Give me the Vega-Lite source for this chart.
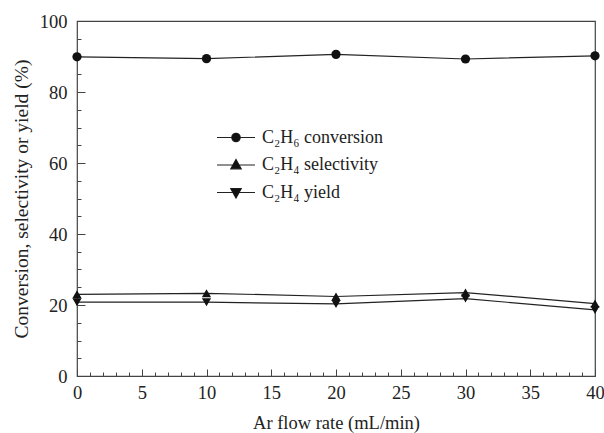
{
  "$schema": "https://vega.github.io/schema/vega-lite/v6.json",
  "width": 518,
  "height": 355,
  "autosize": {"type": "none"},
  "padding": {"left": 77, "top": 21, "right": 9, "bottom": 57},
  "background": "white",
  "config": {
    "view": {"stroke": "#444", "strokeWidth": 1.2},
    "font": "Liberation Serif",
    "axis": {
      "domain": false,
      "grid": false,
      "labelFont": "Liberation Serif",
      "titleFont": "Liberation Serif",
      "labelFontSize": 18.5,
      "titleFontSize": 18.5,
      "labelColor": "#222",
      "titleColor": "#222",
      "titleFontWeight": "normal",
      "tickColor": "#444",
      "tickWidth": 1
    },
    "legend": {
      "title": null,
      "orient": "none",
      "legendX": 148,
      "legendY": 105.5,
      "padding": 0,
      "symbolSize": 400,
      "rowPadding": 7.5,
      "labelOffset": 15,
      "labelFont": "Liberation Serif",
      "labelFontSize": 18,
      "labelColor": "#222",
      "labelLimit": 300
    }
  },
  "data": {
    "values": [
      {"flow": 0, "series": "C₂H₆ conversion", "value": 89.9},
      {"flow": 10, "series": "C₂H₆ conversion", "value": 89.4},
      {"flow": 20, "series": "C₂H₆ conversion", "value": 90.6},
      {"flow": 30, "series": "C₂H₆ conversion", "value": 89.3},
      {"flow": 40, "series": "C₂H₆ conversion", "value": 90.2},
      {"flow": 0, "series": "C₂H₄ selectivity", "value": 23.0},
      {"flow": 10, "series": "C₂H₄ selectivity", "value": 23.3},
      {"flow": 20, "series": "C₂H₄ selectivity", "value": 22.4},
      {"flow": 30, "series": "C₂H₄ selectivity", "value": 23.5},
      {"flow": 40, "series": "C₂H₄ selectivity", "value": 20.4},
      {"flow": 0, "series": "C₂H₄ yield", "value": 20.8},
      {"flow": 10, "series": "C₂H₄ yield", "value": 20.8},
      {"flow": 20, "series": "C₂H₄ yield", "value": 20.3},
      {"flow": 30, "series": "C₂H₄ yield", "value": 21.8},
      {"flow": 40, "series": "C₂H₄ yield", "value": 18.6}
    ]
  },
  "encoding": {
    "x": {
      "field": "flow",
      "type": "quantitative",
      "scale": {"domain": [0, 40], "nice": false, "zero": false},
      "axis": {
        "title": "Ar flow rate (mL/min)",
        "values": [0,1,2,3,4,5,6,7,8,9,10,11,12,13,14,15,16,17,18,19,20,21,22,23,24,25,26,27,28,29,30,31,32,33,34,35,36,37,38,39,40],
        "labelExpr": "datum.value % 5 === 0 ? datum.label : ''",
        "tickSize": {"condition": {"test": "datum.value % 5 === 0", "value": -7}, "value": -4},
        "labelPadding": 14,
        "labelFlush": false,
        "labelOverlap": false,
        "titlePadding": 9
      }
    },
    "y": {
      "field": "value",
      "type": "quantitative",
      "scale": {"domain": [0, 100], "nice": false},
      "axis": {
        "title": "Conversion, selectivity or yield (%)",
        "titleFontSize": 19.5,
        "values": [0,5,10,15,20,25,30,35,40,45,50,55,60,65,70,75,80,85,90,95,100],
        "labelExpr": "datum.value % 20 === 0 ? datum.label : ''",
        "tickSize": {"condition": {"test": "datum.value % 20 === 0", "value": -8}, "value": -4},
        "labelPadding": 18,
        "labelFlush": false,
        "labelOverlap": false,
        "titlePadding": 8
      }
    }
  },
  "layer": [
    {
      "mark": {"type": "line", "color": "#222", "strokeWidth": 1.2},
      "encoding": {"detail": {"field": "series"}}
    },
    {
      "mark": {"type": "point", "filled": true, "color": "#111", "opacity": 1, "size": 85},
      "encoding": {
        "shape": {
          "field": "series",
          "type": "nominal",
          "scale": {
            "domain": ["C₂H₆ conversion", "C₂H₄ selectivity", "C₂H₄ yield"],
            "range": ["circle", "triangle-up", "triangle-down"]
          },
          "legend": null
        }
      }
    },
    {
      "mark": {"type": "point", "filled": false, "color": "#222", "opacity": 0, "strokeWidth": 1.2},
      "encoding": {
        "shape": {
          "field": "series",
          "type": "nominal",
          "scale": {
            "domain": ["C₂H₆ conversion", "C₂H₄ selectivity", "C₂H₄ yield"],
            "range": [
              "M-1.9,0H1.9M0.42,0A0.42,0.42,0,1,1,-0.42,0A0.42,0.42,0,1,1,0.42,0Z",
              "M-1.9,0H1.9M0,-0.55L0.52,0.38L-0.52,0.38Z",
              "M-1.9,0H1.9M0,0.55L0.52,-0.38L-0.52,-0.38Z"
            ]
          },
          "legend": {
            "symbolStrokeWidth": 1.2,
            "symbolStrokeColor": "#222"
          }
        }
      }
    },
    {
      "mark": {"type": "point", "filled": true, "color": "#111", "opacity": 0},
      "encoding": {
        "shape": {
          "field": "series",
          "type": "nominal",
          "scale": {
            "domain": ["C₂H₆ conversion", "C₂H₄ selectivity", "C₂H₄ yield"],
            "range": [
              "M0.42,0A0.42,0.42,0,1,1,-0.42,0A0.42,0.42,0,1,1,0.42,0Z",
              "M0,-0.55L0.52,0.38L-0.52,0.38Z",
              "M0,0.55L0.52,-0.38L-0.52,-0.38Z"
            ]
          },
          "legend": {
            "labelOpacity": 0,
            "symbolFillColor": "#111"
          }
        }
      }
    }
  ],
  "resolve": {"scale": {"shape": "independent"}}
}
